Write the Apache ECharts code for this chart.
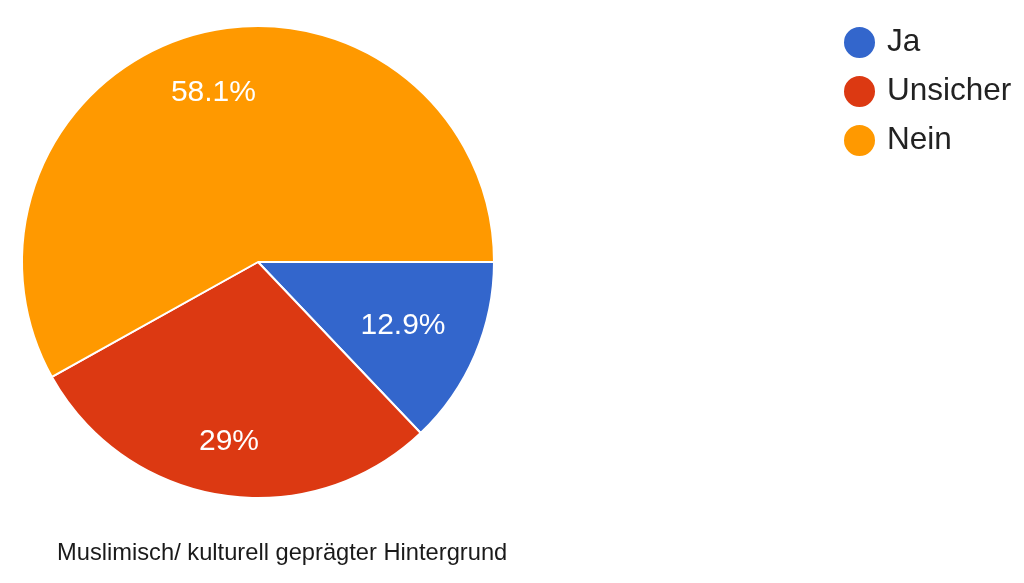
<!DOCTYPE html>
<html>
<head>
<meta charset="utf-8">
<script src="https://cdn.jsdelivr.net/npm/echarts@6/dist/echarts.min.js"></script>
<style>html,body{margin:0;padding:0;background:#fff}#c{width:1024px;height:583px}</style>
</head>
<body>
<div id="c"></div>
<script>
const categories = ['Ja', 'Unsicher', 'Nein'];
const percentValues = [12.9, 29, 58.1];
const colors = ['#3366cc', '#dc3912', '#ff9900'];
const titleText = 'Muslimisch/ kulturell geprägter Hintergrund';

const data = categories.map((n, i) => ({ name: n, value: percentValues[i], itemStyle: { color: colors[i] } }));
const labelOffsets = [[-14, -4], [-3, 9], [-1, -2]];
const chart = echarts.init(document.getElementById('c'));
const font = 'Liberation Sans, Arial, Helvetica, sans-serif';
chart.setOption({
  animation: false,
  title: {
    text: titleText, left: 52, top: 536,
    textStyle: { fontFamily: font, fontSize: 23.7, fontWeight: 'normal', color: '#1a1a1a' }
  },
  legend: {
    orient: 'vertical', left: 837, top: 20, itemGap: 14,
    icon: 'circle', itemWidth: 33, itemHeight: 33,
    textStyle: { fontFamily: font, fontSize: 31.5, lineHeight: 32, color: '#222', padding: [0, 0, 0, 6] },
    data: categories
  },
  series: [
    {
      type: 'pie', center: [258, 262], radius: [0, 236],
      startAngle: 0, clockwise: true,
      itemStyle: { borderColor: '#fff', borderWidth: 2 },
      label: { show: false }, labelLine: { show: false },
      data: data
    },
    {
      type: 'pie', center: [258, 262], radius: [0, 340],
      startAngle: 0, clockwise: true, silent: true,
      itemStyle: { color: 'rgba(0,0,0,0)', borderWidth: 0 },
      label: {
        show: true, position: 'inside', formatter: '{c}%',
        fontFamily: font, fontSize: 30, color: '#fff'
      },
      labelLine: { show: false },
      data: categories.map((n, i) => ({ name: n, value: percentValues[i], label: { offset: labelOffsets[i] } }))
    }
  ]
});
</script>
</body>
</html>
